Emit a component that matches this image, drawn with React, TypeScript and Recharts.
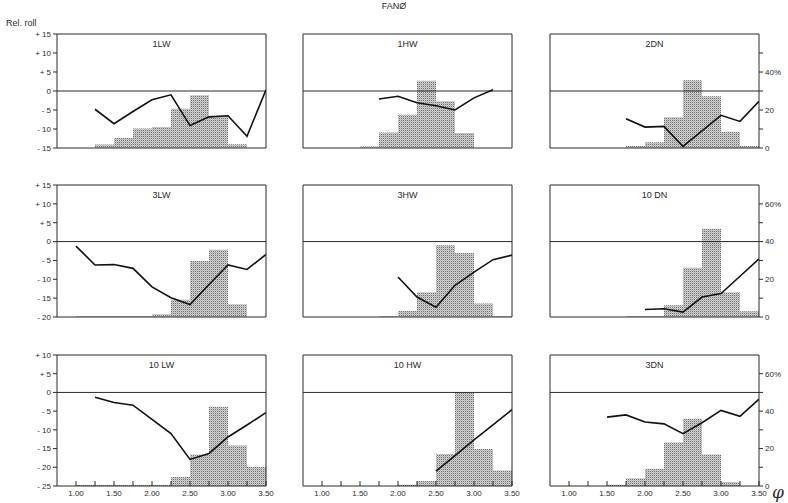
import React from "react";
import { Area, ComposedChart, Line, ReferenceLine, XAxis, YAxis } from "recharts";

// phi edges (bin boundaries); line values sit on the edges, bin i spans edges[i]..edges[i+1]
const EDGES = [0.75, 1, 1.25, 1.5, 1.75, 2, 2.25, 2.5, 2.75, 3, 3.25, 3.5];
const X_TICKS = [1, 1.25, 1.5, 1.75, 2, 2.25, 2.5, 2.75, 3, 3.25, 3.5];

type V = number | null;

const roll1LW: V[] = [null, null, -4.8, -8.6, -5.4, -2.3, -1.0, -9.1, -6.8, -6.5, -11.9, 0.3];
const pct1LW = [0, 0, 1.9, 5.3, 10.2, 11, 20.7, 27.7, 16.7, 2, 0, 0];
const roll1HW: V[] = [null, null, null, null, -2.1, -1.4, -3.1, -3.9, -5.0, -1.8, 0.3, null];
const pct1HW = [0, 0, 0, 0.8, 8.2, 17.5, 35.4, 24.6, 7.9, 0, 0, 0];
const roll2DN: V[] = [null, null, null, null, -7.3, -9.5, -9.3, -14.6, -10.5, -6.4, -8.0, -2.7];
const pct2DN = [0, 0, 0, 0, 1, 3, 16.2, 35.7, 27.3, 8.6, 1, 0];

const roll3LW: V[] = [null, -1.2, -6.2, -6.1, -7.1, -12.0, -14.9, -16.7, -11.4, -6.2, -7.4, -3.4];
const pct3LW = [0, 0.5, 0.5, 0.5, 0.5, 1.4, 9.2, 29.7, 35.7, 6.7, 0, 0];
const roll3HW: V[] = [null, null, null, null, null, -9.4, -14.7, -17.4, -11.6, -8.1, -4.8, -3.6];
const pct3HW = [0, 0, 0, 0, 0.5, 3.2, 13.1, 38, 33.9, 7.1, 0.5, 0];
const roll10DN: V[] = [null, null, null, null, null, -18.0, -17.8, -18.7, -14.7, -13.8, -9.2, -4.6];
const pct10DN = [0, 0, 0, 0, 0.5, 0.5, 6.2, 26.1, 46.8, 13.1, 3, 0];

const roll10LW: V[] = [null, null, -1.3, -2.7, -3.4, -7.2, -11.0, -17.9, -16.3, -11.9, -8.7, -5.4];
const pct10LW = [0, 0.5, 0.5, 0.5, 0.5, 0.5, 4.8, 16.8, 42.4, 21.6, 10.1, 0];
const roll10HW: V[] = [null, null, null, null, null, null, null, -21.0, -16.9, -12.7, -8.7, -4.6];
const pct10HW = [0, 0, 0, 0, 0, 0.7, 2.7, 17.1, 49.8, 19.8, 8.3, 0];
const roll3DN: V[] = [null, null, null, -6.6, -6.0, -7.9, -8.4, -11.0, -8.1, -4.8, -6.4, -1.8];
const pct3DN = [0, 0, 0, 0.7, 4.2, 9.2, 23.3, 36, 16.8, 2.1, 0, 0];

const ROWS = [
  { top: 34, height: 114, yDomain: [-15, 15], yTicks: [-15, -10, -5, 0, 5, 10, 15], pMax: 60, pLabels: [0, 20, 40] },
  { top: 185, height: 132, yDomain: [-20, 15], yTicks: [-20, -15, -10, -5, 0, 5, 10, 15], pMax: 70, pLabels: [0, 20, 40, 60] },
  { top: 355, height: 131, yDomain: [-25, 10], yTicks: [-25, -20, -15, -10, -5, 0, 5, 10], pMax: 70, pLabels: [0, 20, 40, 60] },
];
const COL_LEFT = [57, 303, 550];
const PLOT_W = 209;

const PANELS = [
  { name: "1LW", row: 0, col: 0, roll: roll1LW, pct: pct1LW },
  { name: "1HW", row: 0, col: 1, roll: roll1HW, pct: pct1HW },
  { name: "2DN", row: 0, col: 2, roll: roll2DN, pct: pct2DN },
  { name: "3LW", row: 1, col: 0, roll: roll3LW, pct: pct3LW },
  { name: "3HW", row: 1, col: 1, roll: roll3HW, pct: pct3HW },
  { name: "10 DN", row: 1, col: 2, roll: roll10DN, pct: pct10DN },
  { name: "10 LW", row: 2, col: 0, roll: roll10LW, pct: pct10LW },
  { name: "10 HW", row: 2, col: 1, roll: roll10HW, pct: pct10HW },
  { name: "3DN", row: 2, col: 2, roll: roll3DN, pct: pct3DN },
];

const FONT = "'Liberation Sans', Arial, sans-serif";
const INK = "#2a2a2a";
const tickStyle = { fontSize: 8, fill: INK, fontFamily: FONT };

const LEFT_W = 40;
const RIGHT_W = 28;
const TOP_PAD = 6;
const BOTTOM_H = 22;

function fmtRoll(v: number) {
  if (v > 0) return `+ ${v}`;
  if (v < 0) return `- ${-v}`;
  return "0";
}

function Panel({ name, row, col, roll, pct, idx }: { name: string; row: number; col: number; roll: V[]; pct: number[]; idx: number }) {
  const r = ROWS[row];
  const data = EDGES.map((x, i) => ({ x, roll: roll[i], pct: pct[i] }));
  const pTicks: number[] = [];
  for (let v = 0; v < r.pMax; v += 10) pTicks.push(v);
  const isLeft = col === 0;
  const isRight = col === 2;
  const isBottom = row === 2;
  const patId = `stip${idx}`;
  const w = LEFT_W + PLOT_W + RIGHT_W;
  const h = r.height + TOP_PAD + BOTTOM_H;

  return (
    <>
      <div style={{ position: "absolute", left: COL_LEFT[col] - LEFT_W, top: r.top - TOP_PAD }}>
        <ComposedChart width={w} height={h} data={data} margin={{ top: TOP_PAD - 1, right: 0, bottom: 0, left: 0 }}>
          <defs>
            <pattern id={patId} width="2" height="2" patternUnits="userSpaceOnUse">
              <rect width="2" height="2" fill="#d2d2d2" />
              <rect width="1" height="1" fill="#6e6e6e" />
              <rect x="1" y="1" width="1" height="1" fill="#b4b4b4" />
            </pattern>
          </defs>
          <XAxis
            xAxisId="top"
            orientation="top"
            type="number"
            dataKey="x"
            domain={[0.75, 3.5]}
            ticks={X_TICKS}
            interval={0}
            allowDataOverflow
            height={1}
            tick={false}
            tickSize={-5}
            axisLine={{ stroke: INK }}
            tickLine={{ stroke: INK }}
          />
          <XAxis
            xAxisId="bottom"
            orientation="bottom"
            type="number"
            dataKey="x"
            domain={[0.75, 3.5]}
            ticks={X_TICKS}
            interval={0}
            allowDataOverflow
            height={BOTTOM_H}
            tick={isBottom ? tickStyle : false}
            tickFormatter={(v: number) => (Math.abs(v * 2 - Math.round(v * 2)) < 1e-6 ? v.toFixed(2) : "")}
            tickSize={-5}
            tickMargin={9}
            axisLine={{ stroke: INK }}
            tickLine={{ stroke: INK }}
          />
          <YAxis
            yAxisId="left"
            orientation="left"
            type="number"
            domain={r.yDomain}
            ticks={r.yTicks}
            interval={0}
            allowDataOverflow
            width={LEFT_W}
            tick={isLeft ? tickStyle : false}
            tickFormatter={fmtRoll}
            tickSize={isLeft ? 4 : -5}
            tickMargin={2}
            axisLine={{ stroke: INK }}
            tickLine={{ stroke: INK }}
          />
          <YAxis
            yAxisId="right"
            orientation="right"
            type="number"
            domain={[0, r.pMax]}
            ticks={pTicks}
            interval={0}
            allowDataOverflow
            width={RIGHT_W}
            tick={isRight ? tickStyle : false}
            tickFormatter={(v: number) => {
              if (!r.pLabels.includes(v)) return "";
              return v === r.pLabels[r.pLabels.length - 1] ? `${v}%` : `${v}`;
            }}
            tickSize={isRight ? 4 : -5}
            tickMargin={2}
            axisLine={{ stroke: INK }}
            tickLine={{ stroke: INK }}
          />
          <Area
            xAxisId="bottom"
            yAxisId="right"
            type="stepAfter"
            dataKey="pct"
            stroke="none"
            fill={`url(#${patId})`}
            fillOpacity={1}
            isAnimationActive={false}
          />
          <ReferenceLine xAxisId="bottom" yAxisId="left" y={0} stroke={INK} strokeWidth={1} />
          <Line
            xAxisId="bottom"
            yAxisId="left"
            type="linear"
            dataKey="roll"
            stroke="#111"
            strokeWidth={1.6}
            dot={false}
            connectNulls={false}
            isAnimationActive={false}
          />
        </ComposedChart>
      </div>
      <div
        style={{
          position: "absolute",
          left: COL_LEFT[col],
          width: PLOT_W,
          top: r.top + 5,
          textAlign: "center",
          fontSize: 9,
          color: INK,
          fontFamily: FONT,
        }}
      >
        {name}
      </div>
    </>
  );
}

export default function App() {
  return (
    <div
      style={{
        position: "absolute",
        left: 0,
        top: 0,
        width: 788,
        height: 503,
        background: "#fff",
        overflow: "hidden",
        fontFamily: FONT,
      }}
    >
      <div style={{ position: "absolute", left: 0, width: 788, top: 1, textAlign: "center", fontSize: 9, color: INK }}>
        FANØ
      </div>
      <div style={{ position: "absolute", left: 6, top: 18, fontSize: 9, color: INK }}>Rel. roll</div>
      {PANELS.map((p, i) => (
        <Panel key={p.name} idx={i} {...p} />
      ))}
      <div
        style={{
          position: "absolute",
          left: 772,
          top: 482,
          fontSize: 17,
          fontStyle: "italic",
          fontFamily: "'DejaVu Serif', serif",
          color: INK,
        }}
      >
        φ
      </div>
    </div>
  );
}
